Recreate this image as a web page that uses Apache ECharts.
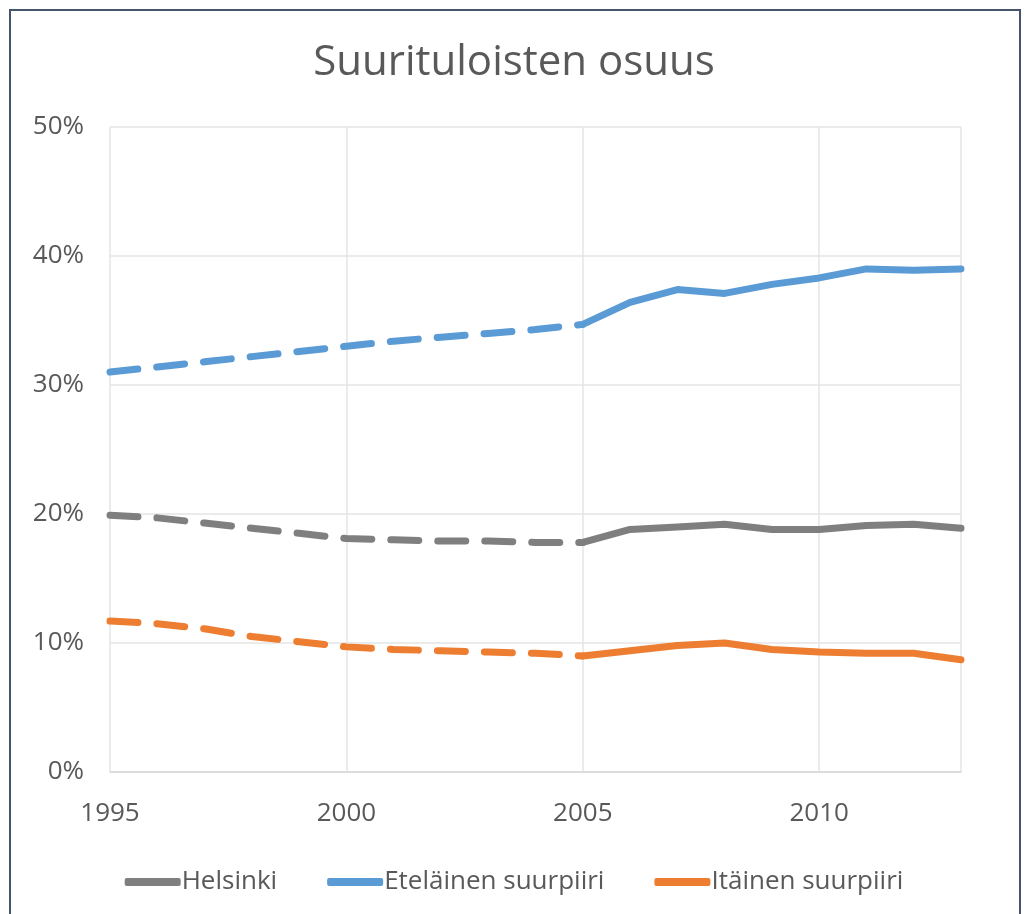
<!DOCTYPE html>
<html>
<head>
<meta charset="utf-8">
<script src="https://cdn.jsdelivr.net/npm/echarts@6/dist/echarts.min.js"></script>
<style>
html,body{margin:0;padding:0;background:#fff;}
#frame{position:absolute;left:9px;top:9px;width:1012px;height:920px;border:2px solid #44546a;border-bottom:none;box-sizing:border-box;}
#chart{position:absolute;left:0;top:0;width:1028px;height:914px;}
</style>
</head>
<body>
<div id="frame"></div>
<div id="chart"></div>
<script>
const years = [1995,1996,1997,1998,1999,2000,2001,2002,2003,2004,2005,2006,2007,2008,2009,2010,2011,2012,2013];
const helsinki = [19.9,19.7,19.3,18.9,18.5,18.1,18.0,17.9,17.9,17.8,17.8,18.8,19.0,19.2,18.8,18.8,19.1,19.2,18.9];
const etelainen = [31.0,31.4,31.8,32.2,32.6,33.0,33.4,33.7,34.0,34.3,34.7,36.4,37.4,37.1,37.8,38.3,39.0,38.9,39.0];
const itainen = [11.7,11.5,11.1,10.5,10.1,9.7,9.5,9.4,9.3,9.2,9.0,9.4,9.8,10.0,9.5,9.3,9.2,9.2,8.7];
const seriesNames = ['Helsinki','Eteläinen suurpiiri','Itäinen suurpiiri'];
const colors = ['#7f7f7f','#5b9bd5','#ed7d31'];
const splitYear = 2005;
const yTicks = {min:0,max:50,interval:10};
const xTicks = {min:1995,max:2013,interval:5};

const font = '"Open Sans", "Noto Sans", sans-serif';
const datasets = [helsinki, etelainen, itainen];
const series = [];
datasets.forEach((vals, i) => {
  const pairs = years.map((y, k) => [y, vals[k]]);
  series.push({
    name: seriesNames[i], type: 'line', symbol: 'none', z: 3,
    data: pairs.filter(p => p[0] <= splitYear),
    lineStyle: {color: colors[i], width: 7, type: [28, 19], cap: 'round', join: 'round'},
    itemStyle: {color: colors[i]}
  });
  series.push({
    name: seriesNames[i], type: 'line', symbol: 'none', z: 3,
    data: pairs.filter(p => p[0] >= splitYear),
    lineStyle: {color: colors[i], width: 7, type: 'solid', cap: 'round', join: 'round'},
    itemStyle: {color: colors[i]}
  });
});

const chart = echarts.init(document.getElementById('chart'), null, {renderer: 'canvas'});
chart.setOption({
  animation: false,
  backgroundColor: 'transparent',
  title: {
    text: 'Suurituloisten osuus', left: 'center', top: 37,
    textStyle: {fontFamily: font, fontSize: 42, fontWeight: 'normal', color: '#595959'}
  },
  legend: {
    data: seriesNames, bottom: 14, left: 'center', itemGap: 50,
    itemWidth: 56, itemHeight: 8, icon: 'roundRect',
    textStyle: {fontFamily: font, fontSize: 26, color: '#595959', padding: [0,0,0,-4]}
  },
  grid: {left: 110, right: 67, top: 127, bottom: 142},
  xAxis: {
    type: 'value', min: xTicks.min, max: xTicks.max, interval: xTicks.interval,
    axisLine: {show: true, lineStyle: {color: '#d9d9d9', width: 1.5}},
    axisTick: {show: false},
    axisLabel: {fontFamily: font, fontSize: 26, color: '#595959', margin: 29, formatter: v => String(v), showMaxLabel: false},
    splitLine: {show: true, lineStyle: {color: '#e5e5e5', width: 1.5}}
  },
  yAxis: {
    type: 'value', min: yTicks.min, max: yTicks.max, interval: yTicks.interval,
    axisLine: {show: false}, axisTick: {show: false},
    axisLabel: {fontFamily: font, fontSize: 26, color: '#595959', margin: 26, formatter: '{value}%'},
    splitLine: {show: true, lineStyle: {color: '#e5e5e5', width: 1.5}}
  },
  series: series
});
</script>
</body>
</html>
